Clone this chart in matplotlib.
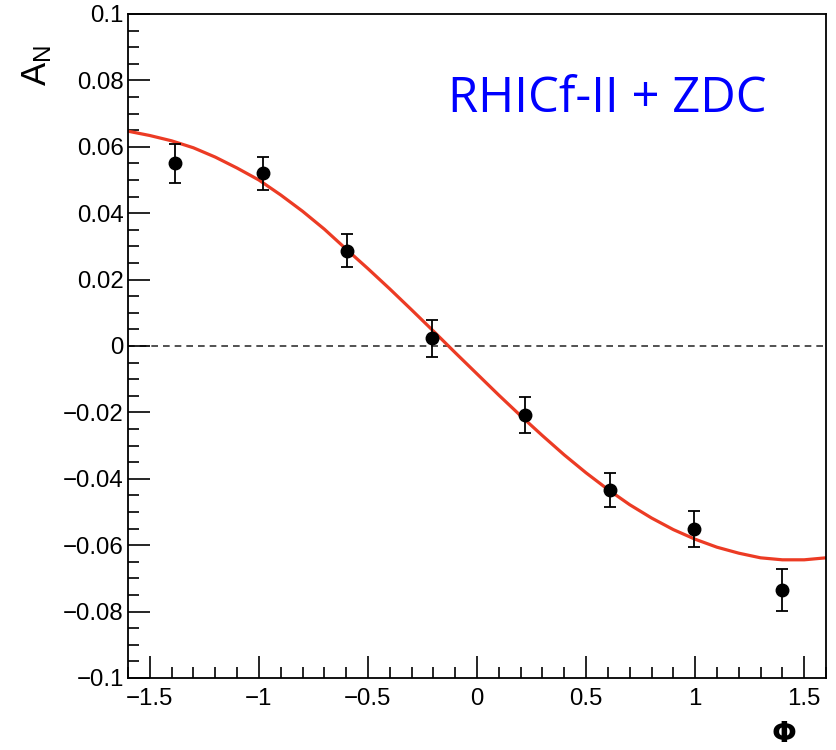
import matplotlib
matplotlib.use("Agg")
import matplotlib.pyplot as plt
from matplotlib.ticker import MultipleLocator, FixedFormatter, FixedLocator

plt.rcParams['font.family'] = ['Liberation Sans', 'DejaVu Sans']
plt.rcParams['mathtext.fontset'] = 'custom'
plt.rcParams['mathtext.rm'] = 'Liberation Sans'
plt.rcParams['mathtext.it'] = 'Liberation Sans'

# data points
phi = [-1.385, -0.98, -0.598, -0.208, 0.22, 0.61, 0.995, 1.40]
an = [0.0550, 0.0520, 0.0287, 0.0023, -0.0208, -0.0434, -0.0551, -0.0735]
an_err = [0.0058, 0.0050, 0.0049, 0.0055, 0.0053, 0.0051, 0.0054, 0.0063]

# fit curve samples
curve_phi = [-1.6, -1.5, -1.4, -1.3, -1.2, -1.1, -1.0, -0.9, -0.8, -0.7, -0.6,
             -0.5, -0.4, -0.3, -0.2, -0.1, 0.0, 0.1, 0.2, 0.3, 0.4, 0.5, 0.6,
             0.7, 0.8, 0.9, 1.0, 1.1, 1.2, 1.3, 1.4, 1.5, 1.6]
curve_an = [0.0647, 0.0634, 0.0618, 0.0597, 0.0569, 0.0536, 0.0500, 0.0455,
            0.0406, 0.0352, 0.0292, 0.0233, 0.0172, 0.0109, 0.0045, -0.0020,
            -0.0084, -0.0148, -0.0210, -0.0270, -0.0328, -0.0382, -0.0432,
            -0.0478, -0.0518, -0.0553, -0.0582, -0.0606, -0.0624, -0.0638,
            -0.0644, -0.0644, -0.0638]

x_ticks = [-1.5, -1, -0.5, 0, 0.5, 1, 1.5]
x_labels = ['\u22121.5', '\u22121', '\u22120.5', '0', '0.5', '1', '1.5']
y_ticks = [-0.1, -0.08, -0.06, -0.04, -0.02, 0, 0.02, 0.04, 0.06, 0.08, 0.1]
y_labels = ['\u22120.1', '\u22120.08', '\u22120.06', '\u22120.04', '\u22120.02', '0',
            '0.02', '0.04', '0.06', '0.08', '0.1']

W, H = 836, 750
fig = plt.figure(figsize=(W / 100, H / 100), dpi=100)
L, R, T, B = 128, 826, 14, 678
ax = fig.add_axes([L / W, (H - B) / H, (R - L) / W, (B - T) / H])
ax.set_xlim(-1.6, 1.6)
ax.set_ylim(-0.1, 0.1)

ax.axhline(0, color='#333333', lw=1.2, ls=(0, (4, 3)), zorder=1)
ax.plot(curve_phi, curve_an, color='#ec3b24', lw=2.3, zorder=2)
ax.errorbar(phi, an, yerr=an_err, fmt='o', color='black', ms=9, elinewidth=1.3,
            capsize=4, capthick=1.3, zorder=3)

ax.xaxis.set_major_locator(FixedLocator(x_ticks))
ax.xaxis.set_major_formatter(FixedFormatter(x_labels))
ax.xaxis.set_minor_locator(MultipleLocator(0.1))
ax.yaxis.set_major_locator(FixedLocator(y_ticks))
ax.yaxis.set_major_formatter(FixedFormatter(y_labels))
ax.yaxis.set_minor_locator(MultipleLocator(0.005))
ax.tick_params(which='both', direction='in', top=False, right=False, width=1.2,
               labelsize=17.3, colors='black')
ax.tick_params(axis='y', which='major', length=16, pad=3)
ax.tick_params(axis='y', which='minor', length=8)
ax.tick_params(axis='x', which='major', length=16, pad=7)
ax.tick_params(axis='x', which='minor', length=8)
for s in ax.spines.values():
    s.set_linewidth(1.3)

fig.text(448 / W, 1 - 112 / H, 'RHICf-II + ZDC', color='#0000ff', fontsize=35.3,
         family=['Open Sans', 'DejaVu Sans'], ha='left', va='baseline')
fig.text(20 / W, 1 - 45 / H, r'A$_\mathrm{N}$', rotation=90, fontsize=25,
         ha='left', va='top')
fig.text(784 / W, 1 - 748 / H, '\u03a6', fontsize=21, fontweight='bold',
         family=['DejaVu Sans'], ha='center', va='bottom')

fig.savefig('out.png', dpi=100)
